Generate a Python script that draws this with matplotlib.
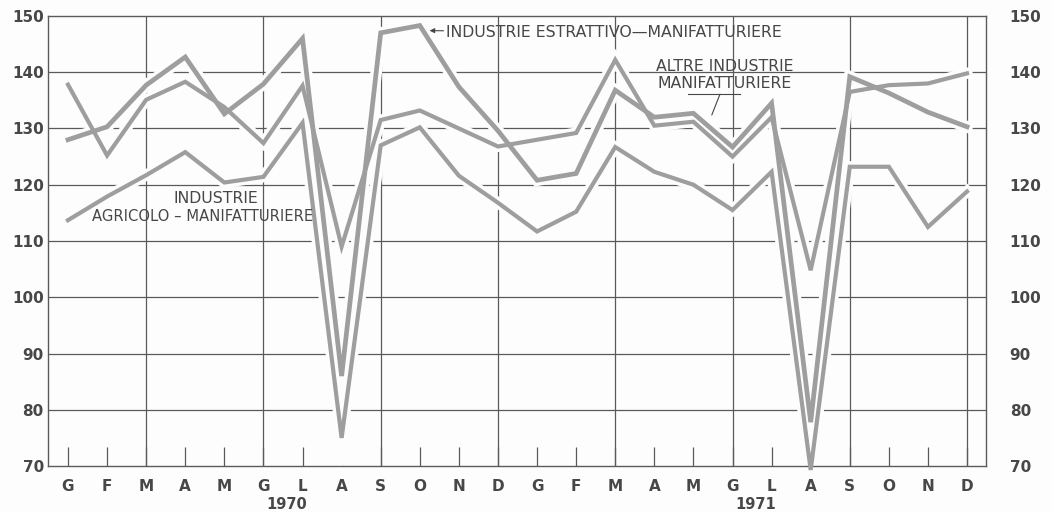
import numpy as np
import matplotlib
matplotlib.use('Agg')
import matplotlib.pyplot as plt


# --------------------------------------------------------------------------- #
# Data (index numbers 1970-1971)
# --------------------------------------------------------------------------- #
months = ['G', 'F', 'M', 'A', 'M', 'G', 'L', 'A', 'S', 'O', 'N', 'D'] * 2
years = ['1970', '1971']

estrattivo = [128.0, 130.3, 137.7, 142.7, 132.6, 137.9, 146.0, 86.0, 147.0, 148.3, 137.4, 129.6,
              120.8, 122.0, 136.8, 132.0, 132.7, 126.7, 134.5, 77.8, 139.2, 136.3, 132.9, 130.3]
altre = [137.8, 125.2, 135.1, 138.3, 133.8, 127.4, 137.6, 109.0, 131.5, 133.2, 130.0, 126.8,
         128.0, 129.2, 142.2, 130.5, 131.2, 125.0, 132.0, 104.8, 136.5, 137.7, 138.0, 139.8]
agricolo = [113.7, 117.9, 121.7, 125.8, 120.4, 121.4, 131.0, 75.0, 127.0, 130.2, 121.6, 116.8,
            111.7, 115.2, 126.7, 122.3, 120.0, 115.5, 122.3, 69.3, 123.2, 123.2, 112.5, 118.8]

yticks = [70, 80, 90, 100, 110, 120, 130, 140, 150]

# --------------------------------------------------------------------------- #
# Style
# --------------------------------------------------------------------------- #
bg = '#fdfdfd'
ink = '#474747'
gridc = '#5a5a5a'
linec = '#9e9e9e'

plt.rcParams['font.family'] = ['DejaVu Sans']

fig = plt.figure(figsize=(10.52, 5.12), dpi=100, facecolor=bg)
ax = fig.add_axes([0.0456, 0.0898, 0.8917, 0.8790])
ax.set_facecolor(bg)

x = np.arange(len(months))
ax.set_xlim(-0.512, 23.486)
ax.set_ylim(70, 150)

# grid
for yv in yticks[1:-1]:
    ax.axhline(yv, color=gridc, lw=0.9, zorder=1)
for xv in x[2::3]:
    ax.axvline(xv, color=gridc, lw=0.9, zorder=1)

# white gaps in the grid around the curves, then the curves on top
series = [(agricolo, 3.0), (altre, 3.0), (estrattivo, 3.4)]
for vals, w in series:
    ax.plot(x, vals, color=bg, lw=w + 5, zorder=2, solid_joinstyle='miter')
for i, (vals, w) in enumerate(series):
    ax.plot(x, vals, color=linec, lw=w, zorder=3 + i, solid_joinstyle='miter', clip_on=False)

for s in ax.spines.values():
    s.set_color(gridc)
    s.set_linewidth(1.0)
    s.set_zorder(2.5)

ax.set_xticks(x)
ax.set_xticklabels(months, fontsize=11, fontweight='bold', color=ink)
ax.tick_params(axis='x', direction='in', length=14, width=0.9, color=gridc, pad=9)
ax.set_yticks(yticks)
ax.set_yticklabels([str(v) for v in yticks], fontsize=11, fontweight='bold', color=ink)
ax.tick_params(axis='y', length=0, pad=3)

ax2 = ax.twinx()
ax2.set_ylim(70, 150)
ax2.set_yticks(yticks)
ax2.set_yticklabels([str(v) for v in yticks], fontsize=11, fontweight='bold', color=ink)
ax2.tick_params(axis='y', length=0, pad=17)
for s in ax2.spines.values():
    s.set_visible(False)

# years under the month letters
for xpos, yr in zip([5.6, 17.6], years):
    ax.text(xpos, -0.068, yr, transform=ax.get_xaxis_transform(), ha='center', va='top',
            fontsize=10.5, fontweight='bold', color=ink)

# series labels
lab = dict(fontsize=11.3, color=ink, zorder=7)
ax.annotate('INDUSTRIE ESTRATTIVO\u2014MANIFATTURIERE', xy=(9.25, 147.4), xytext=(9.68, 147.0),
            ha='left', va='center', **lab,
            arrowprops=dict(arrowstyle='-|>', color=ink, lw=0.8, mutation_scale=7,
                            shrinkA=0, shrinkB=0))
ax.text(16.79, 139.5, 'ALTRE INDUSTRIE\nMANIFATTURIERE', ha='center', va='center',
        linespacing=1.15, **lab)
ax.plot([15.86, 17.19], [136.1, 136.1], color=ink, lw=0.8, zorder=7)
ax.annotate('', xy=(16.47, 132.4), xytext=(16.68, 136.1),
            arrowprops=dict(arrowstyle='-', color=ink, lw=0.8, shrinkA=0, shrinkB=0))
ax.text(3.79, 117.6, 'INDUSTRIE', ha='center', va='center', **lab)
ax.text(3.45, 114.4, 'AGRICOLO \u2013 MANIFATTURIERE', ha='center', va='center',
        fontsize=10.6, color=ink, zorder=7)

fig.savefig('out.png', dpi=100, facecolor=bg)
